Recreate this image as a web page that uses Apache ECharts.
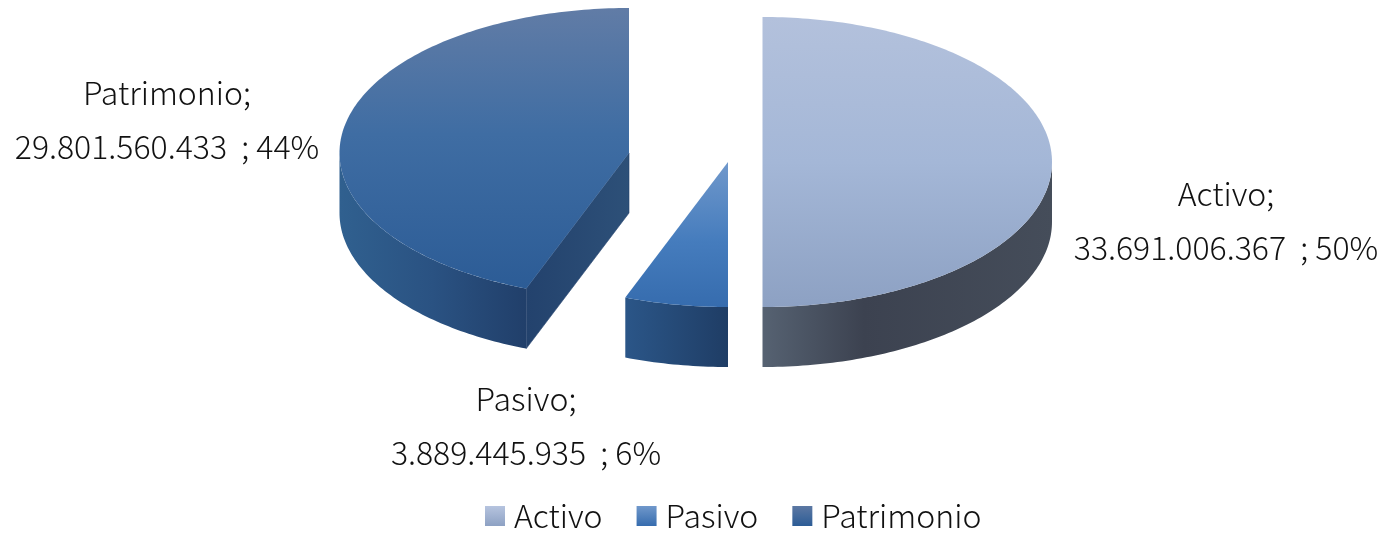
<!DOCTYPE html>
<html>
<head>
<meta charset="utf-8">
<style>html,body{margin:0;padding:0;background:#fff}#c{width:1387px;height:533px}</style>
<script src="https://cdn.jsdelivr.net/npm/echarts@6/dist/echarts.min.js"></script>
</head>
<body>
<div id="c"></div>
<script>
const categories = ['Activo', 'Pasivo', 'Patrimonio'];
const values = [33691006367, 3889445935, 29801560433];

const total = values.reduce((a, b) => a + b, 0);
const RX = 289.5, RY = 145, DEPTH = 60;
const FONT = '"Noto Sans CJK JP"';
const FS = 32;
const INK = '#111111';

function grad(x2, y2, stops) {
  return {type: 'linear', x: 0, y: 0, x2: x2, y2: y2, global: false,
    colorStops: stops.map(s => ({offset: s[0], color: s[1]}))};
}

const looks = [
  { cx: 762.5, cy: 162, lx: 1226, ly: 221,
    top: grad(0, 1, [[0, '#B3C1DC'], [0.5, '#A4B7D7'], [1, '#8DA1C3']]),
    side: grad(1, 0, [[0, '#566272'], [0.35, '#3C4250'], [1, '#454D5A']]), cut: null,
    legend: grad(0, 1, [[0, '#B6C4DF'], [1, '#8DA1C3']]) },
  { cx: 728, cy: 162, lx: 526, ly: 425.5,
    top: grad(0, 1, [[0, '#7098CB'], [0.55, '#457CBD'], [1, '#366CAE']]),
    side: grad(1, 0, [[0, '#2B5688'], [1, '#1F3D65']]), cut: null,
    legend: grad(0, 1, [[0, '#7098CB'], [1, '#366CAE']]) },
  { cx: 629, cy: 153, lx: 167, ly: 120,
    top: grad(0, 1, [[0, '#617CA6'], [0.45, '#3F6DA3'], [1, '#2C5C96']]),
    side: grad(1, 0, [[0, '#30608F'], [0.5, '#2A5282'], [1, '#213F6A']]),
    cut: grad(1, 0, [[0, '#23426D'], [1, '#2D5078']]),
    legend: grad(0, 1, [[0, '#5C78A3'], [1, '#2C5C96']]) }
];

function pt(lk, deg, dz) {
  const r = deg * Math.PI / 180;
  return [lk.cx + RX * Math.sin(r), lk.cy - RY * Math.cos(r) + (dz || 0)];
}
function arcPts(lk, a, b, dz) {
  const out = [], n = Math.max(2, Math.ceil(Math.abs(b - a)));
  for (let i = 0; i <= n; i++) out.push(pt(lk, a + (b - a) * i / n, dz));
  return out;
}
function fmt(v) { return String(v).replace(/\B(?=(\d{3})+$)/g, '.'); }

const starts = [];
values.reduce((acc, v, i) => { starts[i] = acc; return acc + v; }, 0);

function renderSlice(i) {
  return function () {
    const lk = looks[i];
    const a0 = starts[i] / total * 360;
    const a1 = (starts[i] + values[i]) / total * 360;
    const children = [];
    // radial cut wall facing the viewer (lower right)
    if (lk.cut) {
      const p = pt(lk, a0);
      children.push({type: 'polygon', shape: {points: [[lk.cx, lk.cy], p, [p[0], p[1] + DEPTH], [lk.cx, lk.cy + DEPTH]]},
        style: {fill: lk.cut, stroke: '#23426D', lineWidth: 0.6}});
    }
    // outer wall: only the front half of the rim is visible
    const wa = Math.max(a0, 90), wb = Math.min(a1, 270);
    if (wb > wa) {
      const upper = arcPts(lk, wa, wb, 0);
      const lower = arcPts(lk, wb, wa, DEPTH);
      children.push({type: 'polygon', shape: {points: upper.concat(lower)}, style: {fill: lk.side}});
    }
    // top face
    children.push({type: 'polygon', shape: {points: [[lk.cx, lk.cy]].concat(arcPts(lk, a0, a1, 0))},
      style: {fill: lk.top}});
    // data label
    children.push({type: 'text', x: lk.lx, y: lk.ly, style: {
      text: categories[i] + ';\n' + fmt(values[i]) + '  ; ' + Math.round(values[i] / total * 100) + '%',
      align: 'center', verticalAlign: 'middle', lineHeight: 54,
      font: '300 ' + FS + 'px ' + FONT, fill: INK}});
    return {type: 'group', children: children};
  };
}

const chart = echarts.init(document.getElementById('c'), null, {renderer: 'canvas'});
chart.setOption({
  animation: false,
  backgroundColor: '#ffffff',
  legend: {
    left: 480, top: 495, itemWidth: 20, itemHeight: 20, itemGap: 34,
    icon: 'rect', data: categories,
    textStyle: {fontFamily: FONT, fontWeight: 300, fontSize: FS, color: INK, padding: [0, 0, 0, 4]}
  },
  series: categories.map((name, i) => ({
    type: 'custom', name: name, coordinateSystem: 'none', silent: true,
    itemStyle: {color: looks[i].legend},
    data: [values[i]],
    renderItem: renderSlice(i)
  }))
});
</script>
</body>
</html>
